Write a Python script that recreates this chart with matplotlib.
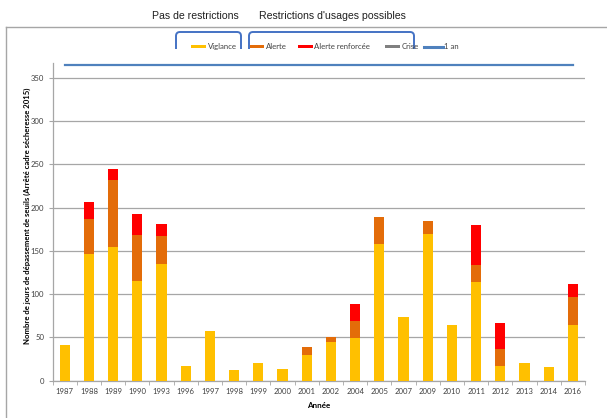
import numpy as np
import matplotlib
matplotlib.use("Agg")
import matplotlib.pyplot as plt
from matplotlib.path import Path
from matplotlib.patches import PathPatch, Rectangle
from matplotlib.lines import Line2D

years = ["1987", "1988", "1989", "1990", "1993", "1996", "1997", "1998", "1999", "2000",
         "2001", "2002", "2004", "2005", "2007", "2009", "2010", "2011", "2012", "2013",
         "2014", "2016"]
vigilance = [41, 146, 155, 115, 135, 17, 57, 12, 20, 13, 30, 45, 49, 158, 74, 169, 64, 114, 17, 21, 16, 64]
alerte = [0, 41, 77, 53, 32, 0, 0, 0, 0, 0, 9, 6, 20, 31, 0, 15, 0, 20, 20, 0, 0, 33]
alerte_renforcee = [0, 20, 13, 25, 14, 0, 0, 0, 0, 0, 0, 0, 20, 0, 0, 0, 0, 46, 30, 0, 0, 15]
crise = [0] * 22
un_an = [365] * 22

C_VIG = "#FFC000"
C_ALE = "#E36C09"
C_REN = "#FF0000"
C_CRI = "#808080"
C_AN = "#4F81BD"
C_BRK = "#4472C4"

W, H = 607, 418
fig = plt.figure(figsize=(W / 100, H / 100), dpi=100)
fig.patch.set_facecolor("white")


def fx(px):
    return px / W


def fy(py):
    return 1 - py / H


# outer frame (left and top edges)
fig.add_artist(Line2D([fx(6), fx(6)], [fy(27), fy(418)], color="#A6A6A6", lw=1.0))
fig.add_artist(Line2D([fx(6), fx(607)], [fy(27), fy(27)], color="#A6A6A6", lw=1.0))

YMAX = 367
ax = fig.add_axes([fx(52.7), fy(380.7), fx(585) - fx(52.7), fy(380.7 - YMAX * 0.8653) - fy(380.7)])
x = np.arange(len(years))
bw = 0.42

v = np.array(vigilance)
a = np.array(alerte)
r = np.array(alerte_renforcee)
c = np.array(crise)
ax.bar(x, v, bw, color=C_VIG, zorder=3)
ax.bar(x, a, bw, bottom=v, color=C_ALE, zorder=3)
ax.bar(x, r, bw, bottom=v + a, color=C_REN, zorder=3)
ax.bar(x, c, bw, bottom=v + a + r, color=C_CRI, zorder=3)
ax.plot(x, un_an, color=C_AN, lw=1.6, zorder=4, clip_on=False)

ax.set_xlim(-0.5, len(years) - 0.5)
ax.set_ylim(0, YMAX)
ax.set_yticks(np.arange(0, 351, 50))
ax.yaxis.grid(True, color="#A6A6A6", lw=0.9, zorder=0)
ax.set_xticks(x)
ax.set_xticklabels(years, fontsize=5.6, family="Lato", color="#404040")
ax.set_xticks(np.arange(-0.5, len(years), 1), minor=True)
ax.tick_params(axis="x", which="major", length=0, pad=5)
ax.tick_params(axis="x", which="minor", length=3, color="#A6A6A6", direction="out")
ax.tick_params(axis="y", length=3, color="#A6A6A6", labelsize=5.6, labelcolor="#404040", pad=3)
for lab in ax.get_yticklabels():
    lab.set_family("Lato")
for s in ["top", "right"]:
    ax.spines[s].set_visible(False)
for s in ["left", "bottom"]:
    ax.spines[s].set_color("#A6A6A6")
    ax.spines[s].set_linewidth(0.9)

ax.set_xlabel("Année", fontsize=5.8, fontweight="bold", family="Lato", labelpad=5)
ax.set_ylabel("Nombre de jours de dépassement de seuils (Arrêté cadre sécheresse 2015)",
              fontsize=5.6, fontweight="bold", family="Lato")
ax.yaxis.set_label_coords(-0.040, 0.52)

# headings above the brackets
fig.text(fx(152), fy(16), "Pas de restrictions", fontsize=7.6, family="Liberation Sans",
         va="center", ha="left", color="#202020")
fig.text(fx(259), fy(16), "Restrictions d'usages possibles", fontsize=7.6,
         family="Liberation Sans", va="center", ha="left", color="#202020")


def bracket(x0, x1, ytop, ybot, rad=4):
    verts = [(fx(x0), fy(ybot)), (fx(x0), fy(ytop + rad)), (fx(x0), fy(ytop)),
             (fx(x0 + rad), fy(ytop)), (fx(x1 - rad), fy(ytop)), (fx(x1), fy(ytop)),
             (fx(x1), fy(ytop + rad)), (fx(x1), fy(ybot))]
    codes = [Path.MOVETO, Path.LINETO, Path.CURVE3, Path.CURVE3, Path.LINETO,
             Path.CURVE3, Path.CURVE3, Path.LINETO]
    fig.add_artist(PathPatch(Path(verts, codes), fill=False, edgecolor=C_BRK, lw=1.4,
                             transform=fig.transFigure))


bracket(176, 241, 32, 49)
bracket(249, 414, 32, 49)

# legend
ly = 46.5
entries = [(191, 206, C_VIG, "Viglance", "patch"),
           (250, 264, C_ALE, "Alerte", "patch"),
           (298, 313, C_REN, "Alerte renforcée", "patch"),
           (385, 400, C_CRI, "Crise", "patch"),
           (424, 443, C_AN, "1 an", "line")]
for x0, x1, col, lab, kind in entries:
    if kind == "patch":
        fig.add_artist(Rectangle((fx(x0), fy(ly + 1.8)), fx(x1) - fx(x0), fy(ly - 1.8) - fy(ly + 1.8),
                                 facecolor=col, edgecolor="none", transform=fig.transFigure))
    else:
        fig.add_artist(Line2D([fx(x0), fx(x1)], [fy(ly), fy(ly)], color=col, lw=2.2))
    fig.text(fx(x1 + 1.5), fy(ly), lab, fontsize=5.6, family="Lato", va="center", ha="left",
             color="#404040")

fig.savefig("out.png", dpi=100)
